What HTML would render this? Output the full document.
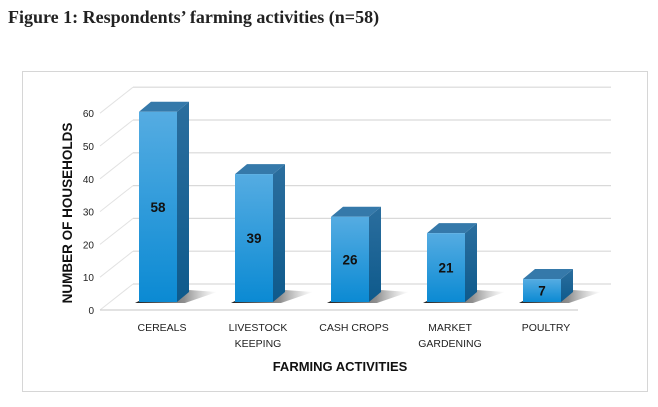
<!DOCTYPE html>
<html><head><meta charset="utf-8"><style>
body{margin:0;background:#fff;width:658px;height:402px;overflow:hidden}
</style></head><body>
<svg width="658" height="402" xmlns="http://www.w3.org/2000/svg" font-family="Liberation Sans, sans-serif">
<defs>
<linearGradient id="fg" x1="0" y1="0" x2="0" y2="1"><stop offset="0" stop-color="#55ACE2"/><stop offset="1" stop-color="#0B8AD3"/></linearGradient>
<linearGradient id="sg" x1="0" y1="0" x2="0" y2="1"><stop offset="0" stop-color="#2B6E9E"/><stop offset="1" stop-color="#0E5A8C"/></linearGradient>
<linearGradient id="shg" x1="0" y1="0" x2="1" y2="0"><stop offset="0" stop-color="#111" stop-opacity="0.95"/><stop offset="0.6" stop-color="#444" stop-opacity="0.6"/><stop offset="1" stop-color="#888" stop-opacity="0"/></linearGradient>
</defs>
<text x="8" y="23" font-family="Liberation Serif, serif" font-weight="bold" font-size="18" fill="#222">Figure 1: Respondents’ farming activities (n=58)</text>
<rect x="22.5" y="71.5" width="625" height="320" fill="none" stroke="#d6d6d6"/>
<g id="grid"></g>
<g id="bars"></g>
<g id="labels"></g>
<text transform="translate(72,213) rotate(-90)" text-anchor="middle" font-weight="bold" font-size="13.5" fill="#111">NUMBER OF HOUSEHOLDS</text>
<text x="340" y="371" text-anchor="middle" font-weight="bold" font-size="13" fill="#111">FARMING ACTIVITIES</text>
</svg>
<script>
const categories=[["CEREALS"],["LIVESTOCK","KEEPING"],["CASH  CROPS"],["MARKET","GARDENING"],["POULTRY"]];
const values=[58,39,26,21,7];
const ticks=[0,10,20,30,40,50,60];
const NS="http://www.w3.org/2000/svg";
const S=3.28, backY0=284, frontY0=310, barBase=302;
const g=document.getElementById('grid'),b=document.getElementById('bars'),l=document.getElementById('labels');
function mk(t,a,p){const e=document.createElementNS(NS,t);for(const k in a)e.setAttribute(k,a[k]);p.appendChild(e);return e;}
function yb(v){return backY0-v*S;}
function yf(v){return frontY0-v*S;}
ticks.forEach(v=>{
 const ln=mk('line',{x1:133,y1:yb(v),x2:611,y2:yb(v),stroke:'#d9d9d9','stroke-width':1.2},g);
 
 const d=mk('line',{x1:100,y1:yf(v),x2:133,y2:yb(v),stroke:'#e2e2e2','stroke-width':1},g);
 
 const t=mk('text',{x:94,y:yf(v)+4,'text-anchor':'end','font-size':10,fill:'#222'},g);t.textContent=v;
 
});
const fl=mk('line',{x1:100,y1:frontY0,x2:578,y2:frontY0,stroke:'#d0d0d0','stroke-width':1.2},g);

const bx0=139,step=96,w=38,dx=12,dy=10;
values.forEach((v,i)=>{
 const x=bx0+i*step,top=barBase-v*S;
 const grp=mk('g',{},b);
 mk('polygon',{points:`${x-4},${barBase+1} ${x+w+8},${barBase+1} ${x+w+dx+28},${barBase-dy} ${x+w+dx},${barBase-dy-2} ${x+8},${barBase-5}`,fill:'url(#shg)'},grp);
 mk('polygon',{points:`${x+w},${top} ${x+w+dx},${top-dy} ${x+w+dx},${barBase-dy} ${x+w},${barBase}`,fill:'url(#sg)'},grp);
 mk('polygon',{points:`${x},${top} ${x+dx},${top-dy} ${x+w+dx},${top-dy} ${x+w},${top}`,fill:'#3579AA'},grp);
 mk('rect',{x:x,y:top,width:w,height:v*S,fill:'url(#fg)'},grp);
 const t=mk('text',{x:x+w/2,y:(top+barBase)/2+5,'text-anchor':'middle','font-weight':'bold','font-size':13.5,fill:'#111'},grp);t.textContent=v;
 
 categories[i].forEach((s,j)=>{
  const c=mk('text',{x:x+w/2+4,y:331+j*16,'text-anchor':'middle','font-size':10.5,fill:'#222'},l);c.textContent=s;
  
 });
});
</script>
</body></html>
